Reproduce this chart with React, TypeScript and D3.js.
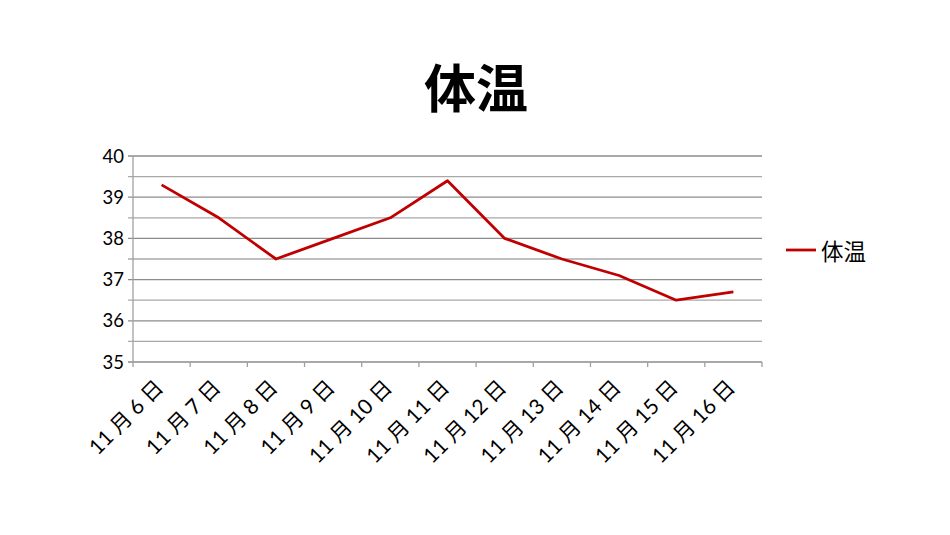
import React from "react";
import * as d3 from "d3";

const categories = ["11 月 6 日", "11 月 7 日", "11 月 8 日", "11 月 9 日", "11 月 10 日", "11 月 11 日", "11 月 12 日", "11 月 13 日", "11 月 14 日", "11 月 15 日", "11 月 16 日"];
const temps = [39.3, 38.5, 37.5, 38.0, 38.5, 39.4, 38.0, 37.5, 37.1, 36.5, 36.7];
const yTicks = [35, 36, 37, 38, 39, 40];
const gridValues = [35, 35.5, 36, 36.5, 37, 37.5, 38, 38.5, 39, 39.5, 40];
const seriesName = "体温";
const title = "体温";

const W = 950, H = 535;
const left = 133, right = 762, top = 156, bottom = 362;
const font = "Lato, 'Noto Sans CJK SC', sans-serif";

export default function App() {
  const x = d3.scaleBand<string>().domain(categories).range([left, right]).paddingInner(0).paddingOuter(0);
  const y = d3.scaleLinear().domain([35, 40]).range([bottom, top]);
  const line = d3.line<number>().x((_, i) => (x(categories[i]) as number) + x.bandwidth() / 2).y(d => y(d));
  const boundaries = categories.map(c => x(c) as number).concat([right]);
  return (
    <svg width={W} height={H} style={{ position: "absolute", left: 0, top: 0, background: "#fff" }} fontFamily={font}>
      <rect width={W} height={H} fill="#fff" />
      <text x={476} y={108} textAnchor="middle" fontSize={52} fontWeight="bold" fontFamily="'Noto Sans CJK SC', sans-serif" fill="#000">{title}</text>
      {gridValues.map(v => (
        <line key={v} x1={left - 5} x2={right} y1={y(v)} y2={y(v)} stroke={Number.isInteger(v) ? "#8c8c8c" : "#a8a8a8"} strokeWidth={1.3} />
      ))}
      <line x1={left} x2={left} y1={top} y2={bottom} stroke="#a0a0a0" strokeWidth={1.3} />
      {boundaries.map((b, i) => (
        <line key={i} x1={b} x2={b} y1={bottom} y2={bottom + 5} stroke="#a0a0a0" strokeWidth={1.3} />
      ))}
      {yTicks.map(t => (
        <text key={t} x={left - 9} y={y(t)} dy="0.36em" textAnchor="end" fontSize={18.5} fill="#000">{t}</text>
      ))}
      {categories.map(c => {
        const cx = (x(c) as number) + x.bandwidth() / 2;
        return (
          <text key={c} transform={`translate(${cx + 3},${bottom + 27}) rotate(-45)`} textAnchor="end" fontSize={21} fill="#000">{c}</text>
        );
      })}
      <path d={line(temps) || ""} fill="none" stroke="#c00000" strokeWidth={2.8} strokeLinejoin="round" />
      <line x1={786} x2={816} y1={250} y2={250} stroke="#c00000" strokeWidth={2.8} />
      <text x={821} y={252} dy="0.36em" fontSize={22.5} fill="#000">{seriesName}</text>
    </svg>
  );
}
